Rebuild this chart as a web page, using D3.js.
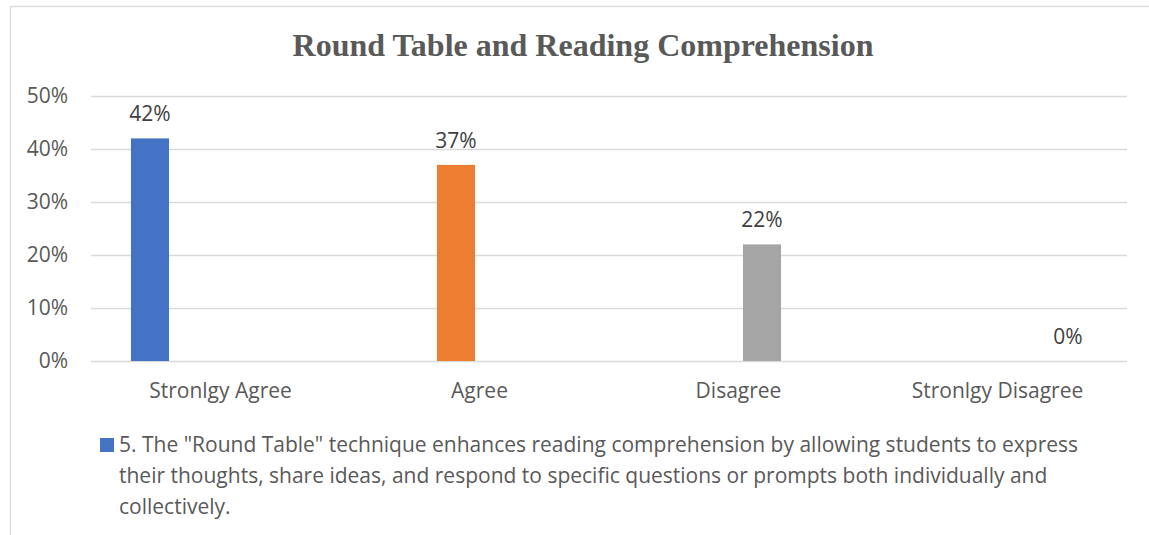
<!DOCTYPE html>
<html>
<head>
<meta charset="utf-8">
<script src="https://cdn.jsdelivr.net/npm/d3@7/dist/d3.min.js"></script>
<style>
  html, body { margin: 0; padding: 0; background: #ffffff; }
  svg { display: block; }
</style>
</head>
<body>
<svg id="chart" width="1149" height="535"></svg>
<script>
// Survey responses for statement 5
const categories = ["Stronlgy Agree", "Agree", "Disagree", "Stronlgy Disagree"];
const values = [0.42, 0.37, 0.22, 0.00];
const seriesColors = ["#4472C4", "#ED7D31", "#A5A5A5", "#FFC000"];
const yTicks = [0, 0.1, 0.2, 0.3, 0.4, 0.5];
const title = "Round Table and Reading Comprehension";
const legendLines = [
  "5. The \"Round Table\" technique enhances reading comprehension by allowing students to express",
  "their thoughts, share ideas, and respond to specific questions or prompts both individually and",
  "collectively."
];

const svg = d3.select("#chart");
const W = 1149, H = 535;
const plot = { left: 91, right: 1127, top: 96, bottom: 361 };
const bodyFont = "'Open Sans', 'Noto Sans', sans-serif";
const bodySize = 21;

// chart frame
svg.append("rect")
  .attr("x", 10.5).attr("y", 6.5)
  .attr("width", W + 10).attr("height", H + 10)
  .attr("fill", "#ffffff")
  .attr("stroke", "#d9d9d9").attr("stroke-width", 1.3);

// title
svg.append("text")
  .attr("x", 583).attr("y", 56)
  .attr("text-anchor", "middle")
  .attr("font-family", "'Liberation Serif', 'Times New Roman', serif")
  .attr("font-weight", "bold")
  .attr("font-size", 32)
  .attr("fill", "#595959")
  .text(title);

const y = d3.scaleLinear().domain([0, 0.5]).range([plot.bottom, plot.top]);
const x0 = d3.scaleBand().domain(categories)
  .range([plot.left, plot.right])
  .paddingInner(0.274).paddingOuter(0.137);
const x1 = d3.scaleBand().domain(d3.range(categories.length))
  .range([0, x0.bandwidth()])
  .paddingInner(0.19).paddingOuter(0.095);

// gridlines + y tick labels
const yAxis = d3.axisLeft(y)
  .tickValues(yTicks)
  .tickSize(-(plot.right - plot.left))
  .tickPadding(23)
  .tickFormat(d3.format(".0%"));
const gy = svg.append("g")
  .attr("transform", `translate(${plot.left},0)`)
  .call(yAxis);
gy.select(".domain").remove();
gy.selectAll(".tick line").attr("stroke", "#d9d9d9").attr("stroke-width", 1.3);
gy.selectAll(".tick text")
  .attr("font-family", bodyFont).attr("font-size", bodySize)
  .attr("fill", "#595959");

// category axis labels
const xAxis = d3.axisBottom(x0).tickSize(0).tickPadding(22);
const gx = svg.append("g")
  .attr("transform", `translate(0,${plot.bottom})`)
  .call(xAxis);
gx.select(".domain").remove();
gx.selectAll(".tick text")
  .attr("font-family", bodyFont).attr("font-size", bodySize)
  .attr("fill", "#595959");

// bars: each response category sits in its own series slot
const barData = categories.map((c, i) => ({ cat: c, idx: i, value: values[i] }));
svg.append("g").selectAll("rect")
  .data(barData)
  .join("rect")
  .attr("x", d => x0(d.cat) + x1(d.idx))
  .attr("width", x1.bandwidth())
  .attr("y", d => y(d.value))
  .attr("height", d => y(0) - y(d.value))
  .attr("fill", d => seriesColors[d.idx]);

// value labels
svg.append("g").selectAll("text")
  .data(barData)
  .join("text")
  .attr("x", d => x0(d.cat) + x1(d.idx) + x1.bandwidth() / 2)
  .attr("y", d => y(d.value) - 17)
  .attr("text-anchor", "middle")
  .attr("font-family", bodyFont).attr("font-size", bodySize)
  .attr("fill", "#404040")
  .text(d => d3.format(".0%")(d.value));

// legend
const lg = svg.append("g");
lg.append("rect")
  .attr("x", 100).attr("y", 438)
  .attr("width", 14).attr("height", 14)
  .attr("fill", seriesColors[0]);
lg.selectAll("text")
  .data(legendLines)
  .join("text")
  .attr("x", 119)
  .attr("y", (d, i) => 451.5 + i * 31)
  .attr("font-family", bodyFont).attr("font-size", bodySize)
  .attr("fill", "#595959")
  .text(d => d);
</script>
</body>
</html>
